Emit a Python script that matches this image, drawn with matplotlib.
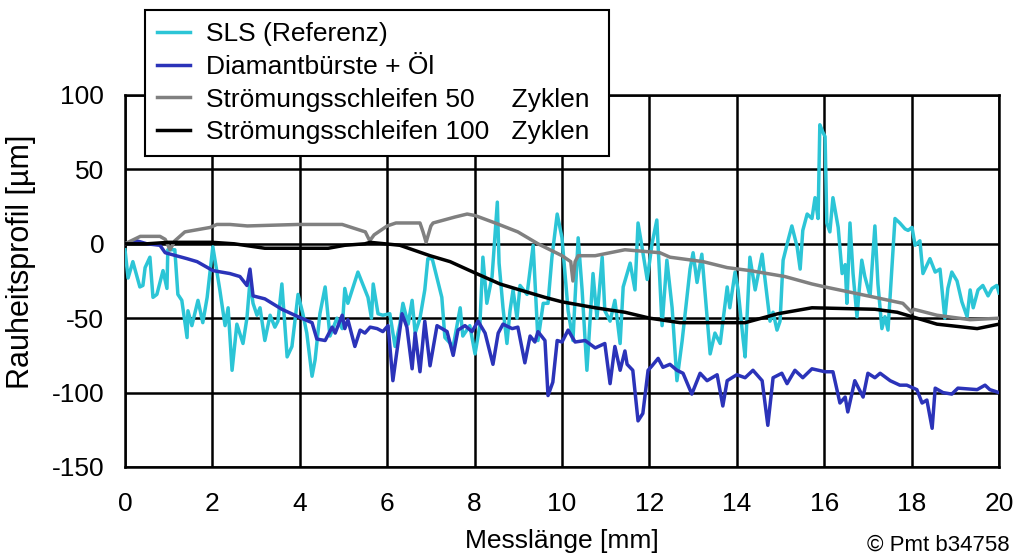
import matplotlib
matplotlib.use("Agg")
import matplotlib.pyplot as plt

plt.rcParams['font.family'] = ['Liberation Sans', 'DejaVu Sans']
plt.rcParams['axes.unicode_minus'] = False

# ---- data ----
sls_x = [0, 0.07, 0.18, 0.34, 0.41, 0.46, 0.57, 0.64, 0.73, 0.87, 0.96, 0.98, 1.14, 1.21, 1.30,
         1.42, 1.44, 1.53, 1.67, 1.78, 1.88, 2.01, 2.17, 2.29, 2.36, 2.45, 2.56, 2.70, 2.79, 2.86,
         2.93, 3.02, 3.09, 3.20, 3.32, 3.43, 3.50, 3.59, 3.71, 3.82, 3.96, 4.07, 4.16, 4.28, 4.35,
         4.46, 4.58, 4.69, 4.85, 4.97, 5.03, 5.10, 5.33, 5.56, 5.64, 5.68, 5.79, 5.90, 6.06, 6.18,
         6.29, 6.36, 6.48, 6.57, 6.64, 6.75, 6.86, 6.93, 7.03, 7.25, 7.32, 7.51, 7.67, 7.73, 7.89,
         8.01, 8.12, 8.19, 8.28, 8.40, 8.47, 8.52, 8.56, 8.65, 8.74, 8.81, 8.88, 8.97, 9.04, 9.20,
         9.34, 9.45, 9.57, 9.68, 9.77, 9.89, 10.0, 10.14, 10.25, 10.37, 10.46, 10.57, 10.71, 10.80,
         10.92, 10.98, 11.10, 11.21, 11.33, 11.40, 11.56, 11.67, 11.74, 11.83, 11.95, 12.06, 12.17,
         12.29, 12.40, 12.52, 12.63, 12.75, 12.86, 12.93, 13.0, 13.09, 13.20, 13.32, 13.39, 13.50,
         13.62, 13.78, 13.84, 13.96, 14.03, 14.14, 14.19, 14.30, 14.42, 14.58, 14.65, 14.76, 14.83,
         14.92, 14.99, 15.06, 15.17, 15.26, 15.38, 15.45, 15.51, 15.61, 15.72, 15.79, 15.86, 15.90,
         15.97, 16.02, 16.06, 16.13, 16.20, 16.32, 16.41, 16.48, 16.52, 16.59, 16.66, 16.75, 16.86,
         16.93, 17.05, 17.16, 17.23, 17.32, 17.39, 17.46, 17.62, 17.73, 17.85, 17.92, 18.01, 18.08,
         18.19, 18.26, 18.42, 18.54, 18.65, 18.76, 18.83, 18.92, 19.04, 19.15, 19.27, 19.34, 19.41,
         19.52, 19.63, 19.75, 19.84, 19.95, 20.0]
sls_y = [-4, -23, -12, -29, -28, -16, -9, -36, -34, -18, -30, -4, -4, -34, -38,
         -63, -45, -55, -38, -53, -36, -2, -31, -55, -43, -85, -54, -67, -50, -25,
         -40, -48, -43, -65, -48, -56, -52, -27, -76, -69, -34, -47, -60, -89, -78,
         -47, -29, -62, -50, -57, -30, -40, -19, -36, -50, -27, -47, -48, -47, -69,
         -54, -40, -54, -38, -60, -50, -31, -10, -10, -36, -63, -69, -43, -62, -55,
         -74, -55, -9, -40, -22, 7, 28, -13, -43, -67, -45, -31, -50, -28, -34,
         -1, -65, -40, -40, -9, 20, 4, -45, -65, 4, -31, -85, -20, -50,
         -9, -45, -52, -38, -67, -29, -13, -31, 14, -2, -24, 0, 16,
         -55, -11, -43, -92, -65, -36, -17, -6, -26, -7, -49, -74, -60,
         -67, -29, -43, -19, -31, -63, -76, -9, -31, -7, -25, -52, -46,
         -58, -52, -11, 2, 12, -2, -17, 9, 20, 17, 31, 17, 80,
         75, 72, 14, 8, 31, 11, -20, -14, -40, 14, -20, -49, -11,
         -22, -35, 12, -27, -57, -49, -58, 17, 14, 10, 9, 11, -1,
         2, -20, -10, -19, -17, -50, -30, -19, -25, -39, -49, -31, -43,
         -31, -28, -35, -30, -28, -33]

dia_x = [0, 0.27, 0.5, 0.80, 0.92, 1.42, 1.65, 2.01, 2.40, 2.63, 2.79, 2.86, 2.93, 3.20, 3.59,
         3.96, 4.28, 4.39, 4.58, 4.74, 4.81, 4.97, 5.03, 5.10, 5.26, 5.38, 5.49, 5.61, 5.77, 5.90,
         6.02, 6.13, 6.34, 6.45, 6.57, 6.64, 6.75, 6.86, 6.98, 7.14, 7.37, 7.51, 7.62, 7.78, 7.94,
         8.08, 8.24, 8.42, 8.54, 8.65, 8.86, 8.99, 9.15, 9.27, 9.38, 9.45, 9.61, 9.68, 9.79, 9.89,
         10.0, 10.14, 10.30, 10.53, 10.76, 10.98, 11.10, 11.21, 11.33, 11.44, 11.49, 11.62, 11.74,
         11.85, 11.97, 12.06, 12.20, 12.31, 12.47, 12.63, 12.77, 12.97, 13.16, 13.32, 13.55, 13.68,
         13.78, 14.0, 14.19, 14.37, 14.58, 14.71, 14.83, 15.03, 15.15, 15.33, 15.51, 15.72, 16.02,
         16.20, 16.36, 16.48, 16.54, 16.70, 16.89, 17.0, 17.16, 17.28, 17.51, 17.73, 17.89, 18.12,
         18.24, 18.35, 18.47, 18.54, 18.72, 18.92, 19.06, 19.50, 19.68, 19.79, 20.0]
dia_y = [0, 2, 0, -1, -6, -10, -12, -18, -20, -22, -28, -17, -35, -37, -44,
         -49, -53, -64, -65, -56, -60, -48, -57, -51, -69, -58, -60, -56, -57, -59,
         -55, -92, -47, -56, -84, -60, -86, -52, -82, -55, -59, -75, -58, -55, -59,
         -52, -60, -81, -60, -54, -57, -56, -80, -62, -66, -59, -65, -102, -93, -65,
         -66, -58, -66, -65, -70, -67, -94, -69, -85, -72, -81, -85, -119,
         -114, -85, -82, -77, -83, -81, -85, -87, -101, -87, -92, -88, -109,
         -92, -88, -90, -85, -92, -122, -90, -87, -94, -85, -90, -84, -86,
         -86, -107, -103, -113, -92, -103, -87, -90, -87, -92, -95, -95, -98,
         -107, -105, -124, -97, -100, -101, -97, -98, -95, -98, -100]

s50_x = [0, 0.35, 0.8, 0.92, 1.03, 1.14, 1.37, 1.95, 2.1, 2.4, 2.8, 3.96, 4.97, 5.5, 5.6, 5.7,
         6.0, 6.2, 6.75, 6.82, 6.89, 7.0, 7.05, 7.55, 7.83, 8.01, 8.47, 8.99, 9.45, 10.0, 10.20,
         10.25, 10.30, 10.37, 10.76, 11.44, 12.24, 12.47, 13.23, 13.78, 14.30, 15.10, 15.72, 16.02,
         17.16, 17.80, 18.0, 18.05, 18.58, 19.34, 20.0]
s50_y = [0, 5, 5, 3, -4, 2, 8, 11, 13, 13, 12, 13, 13, 8, 2, 6,
         12, 14, 14, 8, 1, 12, 14, 18, 20, 19, 14, 8, 0, -8, -12,
         -25, -12, -8, -8, -4, -6, -9, -12, -16, -18, -22, -27, -29,
         -36, -40, -46, -44, -48, -51, -50]

s100_x = [0, 0.5, 1.0, 1.5, 2.0, 2.5, 3.2, 4.65, 5.03, 5.49, 5.61, 6.29, 6.98, 7.44, 7.89,
          8.58, 8.92, 9.61, 10.0, 10.76, 11.44, 12.01, 12.70, 13.62, 14.19, 14.94, 15.72,
          17.16, 17.67, 18.01, 18.58, 19.50, 20.0]
s100_y = [0, 0, 1, 1, 1, 0, -3, -3, -1, 0, 1, -1, -8, -12, -18,
          -27, -30, -36, -39, -43, -46, -50, -53, -53, -53, -47, -43,
          -44, -46, -49, -54, -57, -54]

labels = ["SLS (Referenz)", "Diamantbürste + Öl",
          "Strömungsschleifen 50     Zyklen ", "Strömungsschleifen 100   Zyklen "]
x_ticks = list(range(0, 21, 2))
y_ticks = [-150, -100, -50, 0, 50, 100]

# ---- figure ----
fig = plt.figure(figsize=(10.14, 5.57), dpi=100)
ax = fig.add_axes([125/1014, 1-467/557, 874/1014, 372/557])

FS = 19
lw = 2.5
ax.plot(sls_x, sls_y, color="#2CC5D6", lw=lw, label=labels[0], zorder=3)
ax.plot(dia_x, dia_y, color="#2B33B9", lw=lw, label=labels[1], zorder=4)
ax.plot(s50_x, s50_y, color="#808080", lw=lw, label=labels[2], zorder=5)
ax.plot(s100_x, s100_y, color="#000000", lw=lw, label=labels[3], zorder=6)

ax.set_xlim(0, 20)
ax.set_ylim(-150, 100)
ax.set_xticks(x_ticks)
ax.set_yticks(y_ticks)
ax.set_xticklabels([str(t) for t in x_ticks])
ax.set_yticklabels([str(t) for t in y_ticks])
ax.grid(True, color="black", lw=1.8, zorder=1)
ax.set_axisbelow(True)
for s in ax.spines.values():
    s.set_linewidth(1.8)
    s.set_color("black")
ax.tick_params(length=0, labelsize=FS)
ax.tick_params(axis="x", pad=18)
ax.tick_params(axis="y", pad=15)

fig.text(21/1014, 1-262/557, "Rauheitsprofil [µm]", rotation=90, ha="center", va="center", fontsize=22)
fig.text(562/1014, 1-541/557, "Messlänge [mm]", ha="center", va="center", fontsize=FS)
fig.text(1010/1014, 1-545/557, "© Pmt b34758", ha="right", va="center", fontsize=16)

leg = ax.legend(loc="upper left", bbox_to_anchor=(145/1014, 1-10/557),
                bbox_transform=fig.transFigure, fontsize=FS, frameon=True,
                fancybox=False, framealpha=1, edgecolor="black", borderaxespad=0,
                handlelength=1.25, handletextpad=0.6, labelspacing=0.33, borderpad=0.46)
leg.get_frame().set_linewidth(1.5)
leg.set_zorder(10)

fig.savefig("out.png", dpi=100)
